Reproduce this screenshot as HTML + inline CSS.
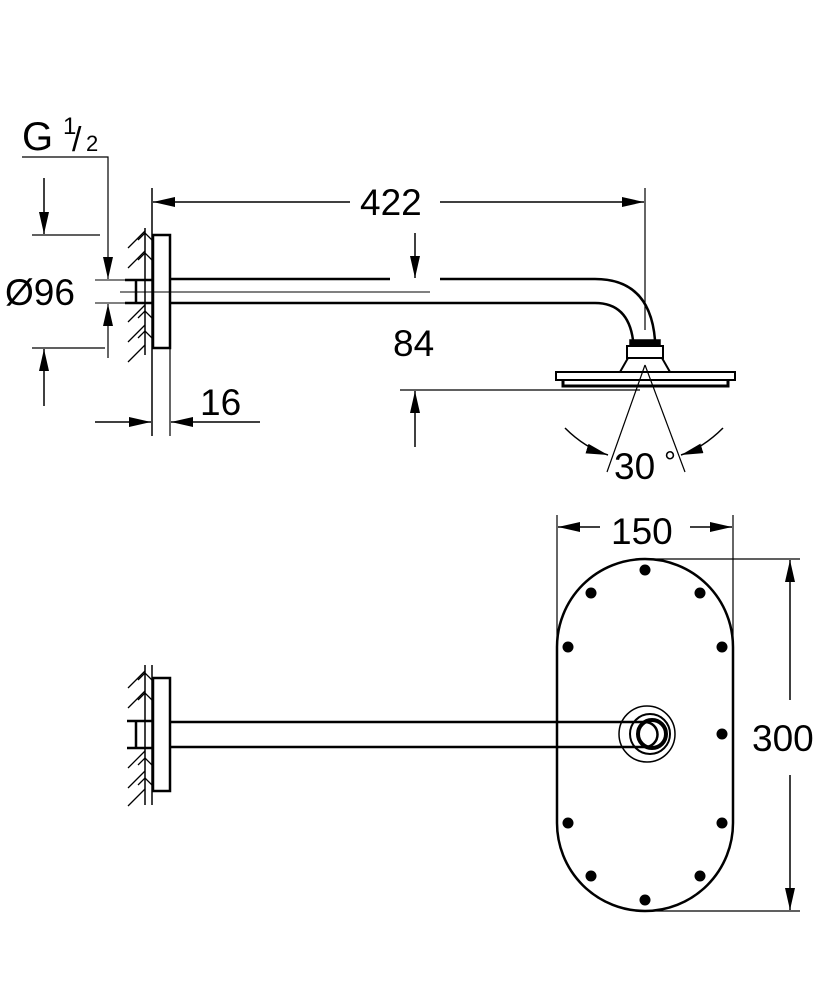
<!DOCTYPE html>
<html><head><style>body{margin:0;background:#fff}svg{display:block}text{font-family:"Liberation Sans",sans-serif;fill:#000}</style></head><body>
<svg width="834" height="1000" viewBox="0 0 834 1000" xmlns="http://www.w3.org/2000/svg">
<defs>
<marker id="a" viewBox="0 0 22 10" refX="22" refY="5" markerWidth="22" markerHeight="10" markerUnits="userSpaceOnUse" orient="auto"><path d="M0,0L22,5L0,10z"/></marker>
</defs>
<g stroke="#000" fill="none" stroke-width="1.5">
<line x1="152" y1="188" x2="152" y2="436"/>
<line x1="145" y1="228" x2="145" y2="355"/>
<path d="M128,248l17,-17 M128,268l17,-17 M128,322l17,-17 M128,342l17,-17 M128,362l17,-17 M138,240l7,-7l7,7 M138,260l7,-7l7,7 M138,318l7,-7l7,7 M138,338l7,-7l7,7" stroke-width="1.3"/>
<rect x="153" y="235" width="17" height="113" stroke-width="2.5"/>
<path d="M125,280H152M125,303H152M136,280V303" stroke-width="2.5"/>
<line x1="120" y1="292" x2="430" y2="292" stroke-width="1"/>
<path d="M170,279H390M440,279H595Q650,279 655,340" stroke-width="2.5"/>
<path d="M170,303H595Q628,303 633,340" stroke-width="2.5"/>
<rect x="630" y="340" width="30" height="6" fill="#000"/>
<rect x="627" y="346" width="36" height="12" stroke-width="2"/>
<path d="M620,372L628,358H662L670,372" stroke-width="2"/>
<rect x="556" y="372" width="179" height="8" stroke-width="2"/>
<path d="M563,380V386H728V380" stroke-width="3"/>
<line x1="645" y1="188" x2="645" y2="330" stroke-width="1.2"/>
<line x1="350" y1="202" x2="153" y2="202" marker-end="url(#a)"/>
<line x1="440" y1="202" x2="644" y2="202" marker-end="url(#a)"/>
<line x1="415" y1="233" x2="415" y2="278" marker-end="url(#a)"/>
<line x1="398" y1="292" x2="430" y2="292" stroke-width="1"/>
<line x1="400" y1="390" x2="640" y2="390" stroke-width="1.2"/>
<line x1="415" y1="447" x2="415" y2="391" marker-end="url(#a)"/>
<line x1="645" y1="365" x2="607" y2="472" stroke-width="1.2"/>
<line x1="645" y1="365" x2="685" y2="472" stroke-width="1.2"/>
<path d="M565,428Q585,448 608,455" marker-end="url(#a)"/>
<path d="M723,428Q703,448 681,455" marker-end="url(#a)"/>
<line x1="32" y1="235" x2="100" y2="235" stroke-width="1.2"/>
<line x1="32" y1="348" x2="105" y2="348" stroke-width="1.2"/>
<line x1="44" y1="178" x2="44" y2="234" marker-end="url(#a)"/>
<line x1="44" y1="406" x2="44" y2="349" marker-end="url(#a)"/>
<line x1="95" y1="280" x2="125" y2="280" stroke-width="1"/>
<line x1="95" y1="303" x2="125" y2="303" stroke-width="1"/>
<path d="M22,157H108V279" stroke-width="1.2" marker-end="url(#a)"/>
<line x1="108" y1="358" x2="108" y2="304" stroke-width="1.2" marker-end="url(#a)"/>
<line x1="170" y1="348" x2="170" y2="436" stroke-width="1.2"/>
<line x1="95" y1="422" x2="151" y2="422" marker-end="url(#a)"/>
<line x1="260" y1="422" x2="171" y2="422" marker-end="url(#a)"/>

<line x1="152" y1="665" x2="152" y2="805"/>
<line x1="145" y1="665" x2="145" y2="805"/>
<path d="M128,688l17,-17 M128,708l17,-17 M128,768l17,-17 M128,788l17,-17 M128,806l17,-17 M138,680l7,-7l7,7 M138,700l7,-7l7,7 M138,765l7,-7l7,7 M138,785l7,-7l7,7" stroke-width="1.3"/>
<rect x="153" y="678" width="17" height="113" stroke-width="2.5"/>
<path d="M127,721H152M127,748H152M136,721V748" stroke-width="2.5"/>
<rect x="557" y="559" width="176" height="352" rx="88" ry="88" stroke-width="2.5"/>
<path d="M170,722H645M170,747H645" stroke-width="2.5"/>
<circle cx="647" cy="734" r="28" stroke-width="1.5"/>
<circle cx="650" cy="734" r="20" stroke-width="2"/>
<circle cx="652" cy="734" r="14" stroke-width="4"/>
<path d="M645,722A12,12 0 0 1 645,747" stroke-width="2.5"/>
<g fill="#000" stroke="none">
<circle cx="645" cy="570" r="5.5"/><circle cx="591" cy="593" r="5.5"/><circle cx="700" cy="593" r="5.5"/>
<circle cx="568" cy="647" r="5.5"/><circle cx="722" cy="647" r="5.5"/><circle cx="722" cy="734" r="5.5"/>
<circle cx="568" cy="823" r="5.5"/><circle cx="722" cy="823" r="5.5"/><circle cx="591" cy="876" r="5.5"/>
<circle cx="700" cy="876" r="5.5"/><circle cx="645" cy="900" r="5.5"/>
</g>
<line x1="557" y1="515" x2="557" y2="640" stroke-width="1.2"/>
<line x1="733" y1="515" x2="733" y2="640" stroke-width="1.2"/>
<line x1="600" y1="527" x2="558" y2="527" marker-end="url(#a)"/>
<line x1="690" y1="527" x2="732" y2="527" marker-end="url(#a)"/>
<line x1="645" y1="559" x2="800" y2="559" stroke-width="1.2"/>
<line x1="645" y1="911" x2="800" y2="911" stroke-width="1.2"/>
<line x1="790" y1="700" x2="790" y2="560" marker-end="url(#a)"/>
<line x1="790" y1="775" x2="790" y2="910" marker-end="url(#a)"/>
</g>
<g font-size="37">
<text x="22" y="150" font-size="40">G</text>
<text x="63" y="134" font-size="24">1</text>
<text x="72" y="151" font-size="34">/</text>
<text x="86" y="151" font-size="22">2</text>
<text x="360" y="215">422</text>
<text x="5" y="305">Ø96</text>
<text x="393" y="356">84</text>
<text x="200" y="415">16</text>
<text x="614" y="479">30</text>
<text x="664" y="472" font-size="30">°</text>
<text x="611" y="544">150</text>
<text x="752" y="751">300</text>
</g>
</svg>
</body></html>
